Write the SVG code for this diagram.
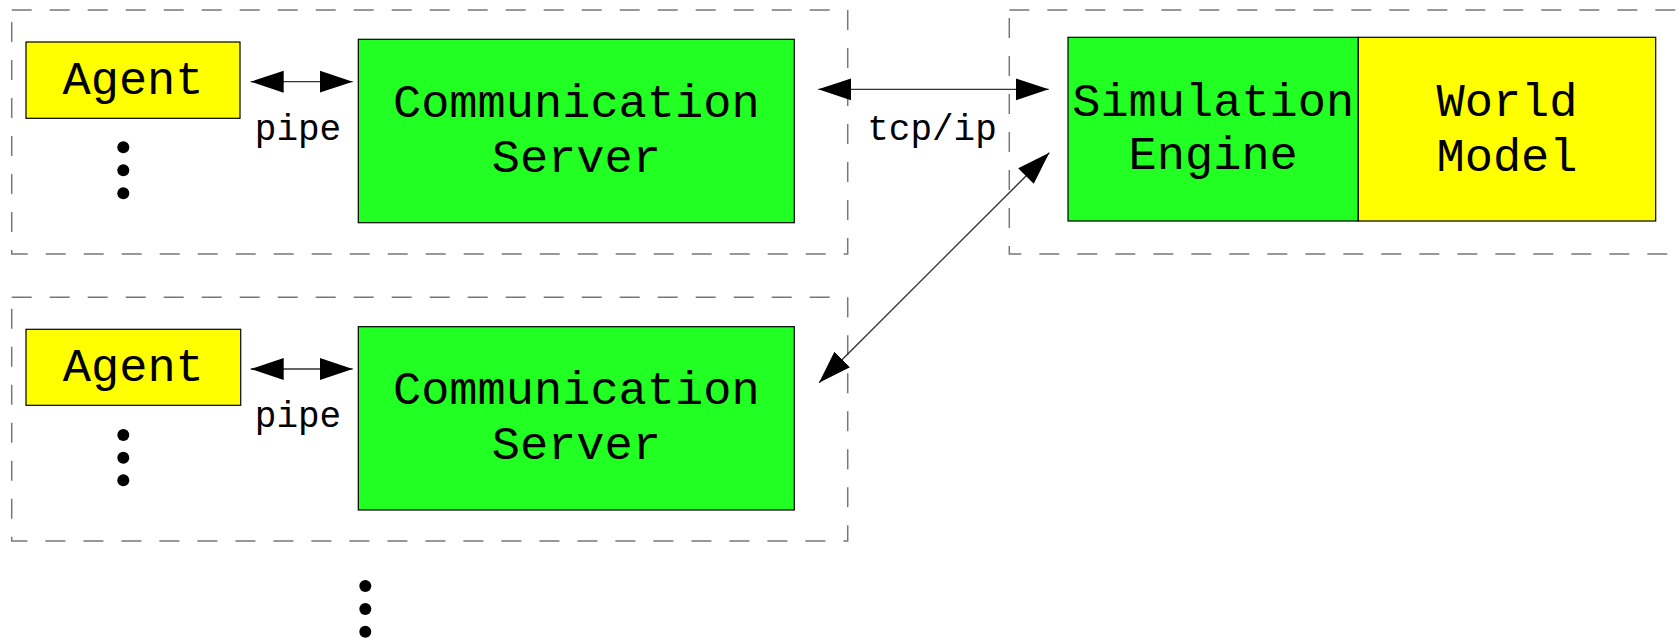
<svg xmlns="http://www.w3.org/2000/svg" width="1680" height="639" viewBox="0 0 1680 639">
<defs>
<marker id="ah" markerUnits="userSpaceOnUse" markerWidth="34" markerHeight="24" refX="33" refY="11" orient="auto-start-reverse" viewBox="0 0 34 22">
<path d="M0,0 L33,11 L0,22 Z" fill="#000"/>
</marker>
</defs>
<style>
.frame{fill:none;stroke:#777;stroke-width:1.5;stroke-dasharray:20 18}
.box{stroke:#000;stroke-width:1.2}
.g{fill:#22ff22}
.y{fill:#ffff00}
.t{font-family:"Liberation Mono","DejaVu Sans Mono",monospace;font-size:47px;fill:#000;text-anchor:middle}
.l{font-family:"Liberation Mono","DejaVu Sans Mono",monospace;font-size:36px;fill:#000;text-anchor:middle}
.c{stroke:#333;stroke-width:1.3;fill:none;marker-start:url(#ah);marker-end:url(#ah)}
.dot{fill:#000}
</style>
<rect width="1680" height="639" fill="#fff"/>
<g id="frames">
<rect class="frame" x="11.7" y="10" width="836" height="244"/>
<rect class="frame" x="11.7" y="297.3" width="836" height="243.7"/>
<rect class="frame" x="1009.3" y="10" width="720" height="244"/>
</g>
<g id="agent1">
<rect class="box y" x="26" y="42" width="214" height="76.3"/>
<text class="t" x="133" y="94">Agent</text>
</g>
<g id="dots1">
<circle class="dot" cx="123.3" cy="147.3" r="6"/>
<circle class="dot" cx="123.3" cy="170.3" r="6"/>
<circle class="dot" cx="123.3" cy="193.3" r="6"/>
</g>
<g id="comm1">
<rect class="box g" x="358.3" y="39.3" width="436" height="183.4"/>
<text class="t" x="576.3" y="116.7">Communication</text>
<text class="t" x="576.3" y="171.7">Server</text>
</g>
<g id="agent2">
<rect class="box y" x="26" y="329.3" width="214.7" height="76"/>
<text class="t" x="133.3" y="380.7">Agent</text>
</g>
<g id="dots2">
<circle class="dot" cx="123.3" cy="435" r="6"/>
<circle class="dot" cx="123.3" cy="457.7" r="6"/>
<circle class="dot" cx="123.3" cy="480.3" r="6"/>
</g>
<g id="comm2">
<rect class="box g" x="358.3" y="326.7" width="436" height="183.3"/>
<text class="t" x="576.3" y="404.1">Communication</text>
<text class="t" x="576.3" y="459.1">Server</text>
</g>
<g id="sim">
<rect class="box g" x="1068" y="37.3" width="290.3" height="183.7"/>
<text class="t" x="1213.2" y="115.5">Simulation</text>
<text class="t" x="1213.2" y="169">Engine</text>
</g>
<g id="world">
<rect class="box y" x="1358.3" y="37.3" width="297.4" height="183.7"/>
<text class="t" x="1507" y="116">World</text>
<text class="t" x="1507" y="171">Model</text>
</g>
<g id="dots3">
<circle class="dot" cx="365.3" cy="586" r="6"/>
<circle class="dot" cx="365.3" cy="609" r="6"/>
<circle class="dot" cx="365.3" cy="631.7" r="6"/>
</g>
<g id="connectors">
<line class="c" x1="250.7" y1="81.7" x2="352.7" y2="81.7"/>
<line class="c" x1="250.7" y1="369" x2="352.7" y2="369"/>
<line class="c" x1="818.3" y1="89.3" x2="1048.7" y2="89.3"/>
<line class="c" x1="1049.3" y1="152.7" x2="819" y2="382.7"/>
<text class="l" x="298" y="140">pipe</text>
<text class="l" x="298" y="426.7">pipe</text>
<text class="l" x="932" y="140">tcp/ip</text>
</g>
</svg>
